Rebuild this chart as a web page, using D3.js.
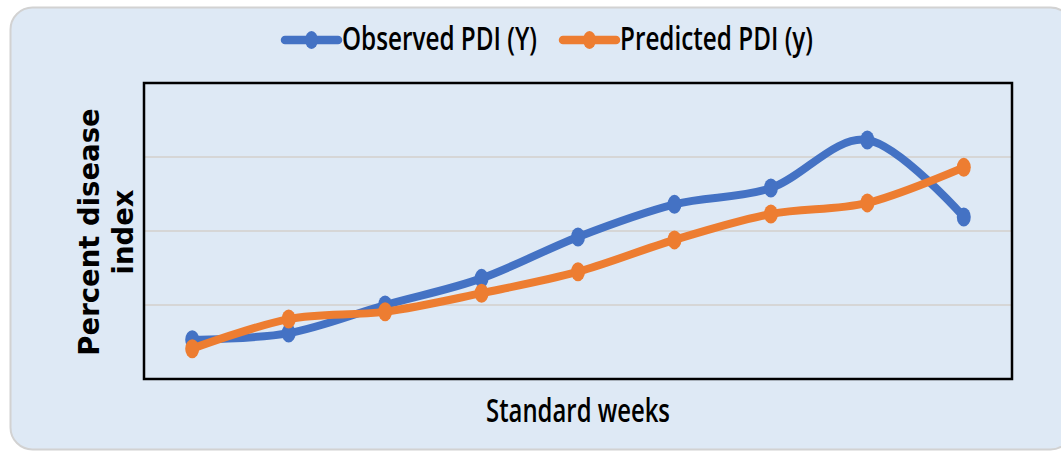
<!DOCTYPE html>
<html>
<head>
<meta charset="utf-8">
<script src="https://cdn.jsdelivr.net/npm/d3@7"></script>
<style>
  html, body { margin: 0; padding: 0; background: #fff; }
  svg { display: block; }
</style>
</head>
<body>
<div id="chart"></div>
<script>
// nine standard weeks, no tick labels are shown on the chart
const weeks = ["1", "2", "3", "4", "5", "6", "7", "8", "9"];
const observed = [5.3, 6.2, 10.0, 13.6, 19.2, 23.6, 25.8, 32.3, 21.9];
const predicted = [4.1, 8.1, 9.1, 11.6, 14.5, 18.8, 22.3, 23.8, 28.6];
const gridTicks = [10, 20, 30];

const width = 1061, height = 452;
const margin = { top: 83, right: 49, bottom: 73, left: 144 };

const svg = d3.select("#chart").append("svg")
  .attr("width", width)
  .attr("height", height);

// outer chart area
svg.append("rect")
  .attr("x", 10.5).attr("y", 7.5)
  .attr("width", 1062).attr("height", 442)
  .attr("rx", 22)
  .attr("fill", "#dee9f5")
  .attr("stroke", "#d2d2d2")
  .attr("stroke-width", 2);

const x = d3.scalePoint()
  .domain(weeks)
  .range([margin.left, width - margin.right])
  .padding(0.5);

const y = d3.scaleLinear()
  .domain([0, 40])
  .range([height - margin.bottom, margin.top]);

// gridlines
svg.append("g")
  .attr("class", "grid")
  .selectAll("line")
  .data(gridTicks)
  .join("line")
  .attr("x1", margin.left)
  .attr("x2", width - margin.right)
  .attr("y1", d => y(d))
  .attr("y2", d => y(d))
  .attr("stroke", "#d6d6d6")
  .attr("stroke-width", 2);

// plot frame
svg.append("rect")
  .attr("x", margin.left)
  .attr("y", margin.top)
  .attr("width", width - margin.left - margin.right)
  .attr("height", height - margin.top - margin.bottom)
  .attr("fill", "none")
  .attr("stroke", "#000")
  .attr("stroke-width", 2.5);

const line = d3.line()
  .x((d, i) => x(weeks[i]))
  .y(d => y(d))
  .curve(d3.curveCardinal.tension(0));

const series = [
  { name: "Observed PDI (Y)", values: observed, color: "#4472c4" },
  { name: "Predicted PDI (y)", values: predicted, color: "#ed7d31" },
];

series.forEach(s => {
  const g = svg.append("g");
  g.append("path")
    .attr("d", line(s.values))
    .attr("fill", "none")
    .attr("stroke", s.color)
    .attr("stroke-width", 8)
    .attr("stroke-linecap", "round");
  g.selectAll("ellipse")
    .data(s.values)
    .join("ellipse")
    .attr("cx", (d, i) => x(weeks[i]))
    .attr("cy", d => y(d))
    .attr("rx", 7)
    .attr("ry", 9.5)
    .attr("fill", s.color);
});

// legend
const legendItems = [
  { x0: 285, tx: 342, tw: 195 },
  { x0: 563, tx: 620, tw: 193 },
];
series.forEach((s, i) => {
  const L = legendItems[i];
  const g = svg.append("g");
  g.append("line")
    .attr("x1", L.x0).attr("x2", L.x0 + 53)
    .attr("y1", 40).attr("y2", 40)
    .attr("stroke", s.color)
    .attr("stroke-width", 8.5)
    .attr("stroke-linecap", "round");
  g.append("ellipse")
    .attr("cx", L.x0 + 26.5).attr("cy", 40)
    .attr("rx", 6.5).attr("ry", 9)
    .attr("fill", s.color);
  g.append("text")
    .attr("x", L.tx).attr("y", 50)
    .attr("textLength", L.tw)
    .attr("lengthAdjust", "spacingAndGlyphs")
    .attr("font-family", "Open Sans, sans-serif")
    .attr("font-weight", 600)
    .attr("font-size", 32)
    .attr("fill", "#000")
    .text(s.name);
});

// axis titles
svg.append("text")
  .attr("x", 486).attr("y", 422)
  .attr("textLength", 184)
  .attr("lengthAdjust", "spacingAndGlyphs")
  .attr("font-family", "Open Sans, sans-serif")
  .attr("font-weight", 600)
  .attr("font-size", 32)
  .attr("fill", "#000")
  .text("Standard weeks");

const yTitle = svg.append("text")
  .attr("transform", "rotate(-90)")
  .attr("text-anchor", "middle")
  .attr("font-family", "DejaVu Sans, sans-serif")
  .attr("font-weight", "bold")
  .attr("font-size", 27.5)
  .attr("fill", "#000");
yTitle.append("tspan")
  .attr("x", -232).attr("y", 99)
  .text("Percent disease");
yTitle.append("tspan")
  .attr("x", -232).attr("y", 133)
  .text("index");
</script>
</body>
</html>
